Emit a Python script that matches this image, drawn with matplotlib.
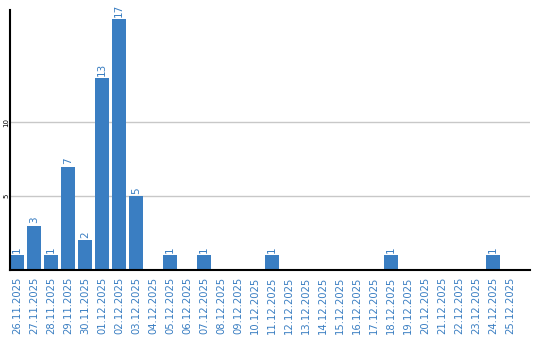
import matplotlib
matplotlib.use("Agg")
import matplotlib.pyplot as plt

# daily counts, 26.11.2025 - 25.12.2025
dates = ["26.11.2025", "27.11.2025", "28.11.2025", "29.11.2025", "30.11.2025",
         "01.12.2025", "02.12.2025", "03.12.2025", "04.12.2025", "05.12.2025",
         "06.12.2025", "07.12.2025", "08.12.2025", "09.12.2025", "10.12.2025",
         "11.12.2025", "12.12.2025", "13.12.2025", "14.12.2025", "15.12.2025",
         "16.12.2025", "17.12.2025", "18.12.2025", "19.12.2025", "20.12.2025",
         "21.12.2025", "22.12.2025", "23.12.2025", "24.12.2025", "25.12.2025"]
counts = [1, 3, 1, 7, 2, 13, 17, 5, 0, 1,
          0, 1, 0, 0, 0, 1, 0, 0, 0, 0,
          0, 0, 1, 0, 0, 0, 0, 0, 1, 0]
yticks = [5, 10]

blue = "#3a7ec2"

fig = plt.figure(figsize=(5.4, 3.4), dpi=100)
ax = fig.add_axes([10 / 540, 1 - 270 / 340, 520 / 540, 260 / 340])

x = list(range(len(dates)))
ax.bar(x, counts, width=14 / 17, color=blue, zorder=2)

# value labels above the non-empty bars
for i, v in zip(x, counts):
    if v > 0:
        ax.text(i, v + 0.15, str(v), rotation=90, ha="center", va="bottom",
                color=blue, fontsize=7.5)

ax.set_xlim(-7 / 17, 30.18)
ax.set_ylim(0, 17.6)
ax.set_xticks(x)
ax.set_xticklabels(dates, rotation=90, color=blue, fontsize=7.2)
ax.set_yticks(yticks)
ax.set_yticklabels([str(t) for t in yticks], rotation=90, fontsize=5,
                   va="center")
ax.tick_params(axis="both", length=0)
ax.tick_params(axis="x", pad=5)
ax.tick_params(axis="y", pad=0.5)

ax.grid(axis="y", color="#c8c8c8", linewidth=1, zorder=0)
for side in ["top", "right"]:
    ax.spines[side].set_visible(False)
ax.spines["left"].set_linewidth(1.5)
ax.spines["bottom"].set_linewidth(1.5)

fig.savefig("out.png", dpi=100)
